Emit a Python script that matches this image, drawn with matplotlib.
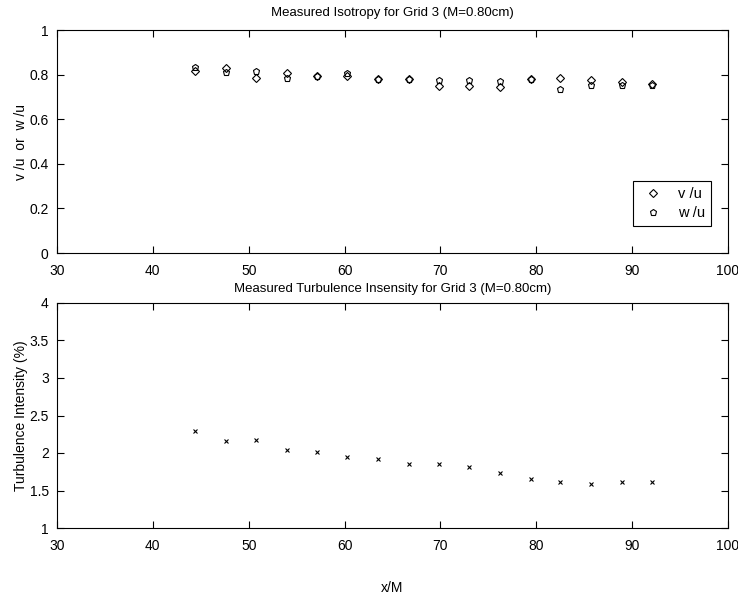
import matplotlib
matplotlib.use("Agg")
import matplotlib.pyplot as plt
from matplotlib.ticker import FuncFormatter

plt.rcParams['font.family'] = ['Liberation Sans', 'DejaVu Sans']
plt.rcParams['font.size'] = 10

x_over_M = [44.4, 47.6, 50.8, 54.0, 57.1, 60.3, 63.5, 66.7, 69.8, 73.0, 76.2, 79.4, 82.5, 85.7, 88.9, 92.1]
v_over_u = [0.815, 0.83, 0.785, 0.805, 0.795, 0.795, 0.78, 0.78, 0.75, 0.75, 0.745, 0.78, 0.785, 0.775, 0.765, 0.76]
w_over_u = [0.835, 0.81, 0.815, 0.785, 0.795, 0.805, 0.78, 0.78, 0.775, 0.775, 0.77, 0.78, 0.735, 0.755, 0.755, 0.755]
turb_int = [2.29, 2.16, 2.17, 2.04, 2.02, 1.95, 1.92, 1.86, 1.85, 1.82, 1.73, 1.66, 1.61, 1.59, 1.61, 1.61]

fig = plt.figure(figsize=(7.38, 5.98), dpi=100)
W, H = 738, 598
ax1 = fig.add_axes([57 / W, 1 - 253 / H, (728 - 57) / W, (253 - 30) / H])
ax2 = fig.add_axes([57 / W, 1 - 528 / H, (728 - 57) / W, (528 - 303) / H])

fmt = FuncFormatter(lambda v, p: ('%g' % round(v, 3)))

ax1.plot(x_over_M, v_over_u, linestyle='none', marker='D', markersize=3.8,
         markerfacecolor='none', markeredgecolor='black', markeredgewidth=0.8, label='v /u')
ax1.plot(x_over_M, w_over_u, linestyle='none', marker='p', markersize=4.5,
         markerfacecolor='none', markeredgecolor='black', markeredgewidth=0.8, label='w /u')
ax1.set_xlim(30, 100)
ax1.set_ylim(0, 1)
ax1.set_yticks([0, 0.2, 0.4, 0.6, 0.8, 1])
ax1.set_ylabel('v /u  or  w /u', labelpad=1)
ax1.set_title('Measured Isotropy for Grid 3 (M=0.80cm)', fontsize=9.5, pad=10)
leg = ax1.legend(loc='lower right', fancybox=False, edgecolor='black', framealpha=1,
                 handletextpad=0.8, borderpad=0.45, handlelength=1.8, labelspacing=0.3,
                 borderaxespad=0, bbox_to_anchor=(0.975, 0.12), fontsize=10.5)
leg.get_frame().set_linewidth(0.8)

ax2.plot(x_over_M, turb_int, linestyle='none', marker='x', markersize=3.5,
         color='black', markeredgewidth=0.8)
ax2.set_xlim(30, 100)
ax2.set_ylim(1, 4)
ax2.set_yticks([1, 1.5, 2, 2.5, 3, 3.5, 4])
ax2.set_ylabel('Turbulence Intensity (%)', labelpad=1)
ax2.set_xlabel('x/M', labelpad=20)
ax2.set_title('Measured Turbulence Insensity for Grid 3 (M=0.80cm)', fontsize=9.5, pad=8)

for ax in (ax1, ax2):
    ax.set_xticks(range(30, 101, 10))
    ax.yaxis.set_major_formatter(fmt)
    ax.tick_params(direction='in', top=True, right=True, length=5, width=0.8, labelsize=10)
    ax.tick_params(axis='x', pad=8)
    ax.tick_params(axis='y', pad=6)
    for s in ax.spines.values():
        s.set_linewidth(0.8)

fig.savefig('out.png', dpi=100)
